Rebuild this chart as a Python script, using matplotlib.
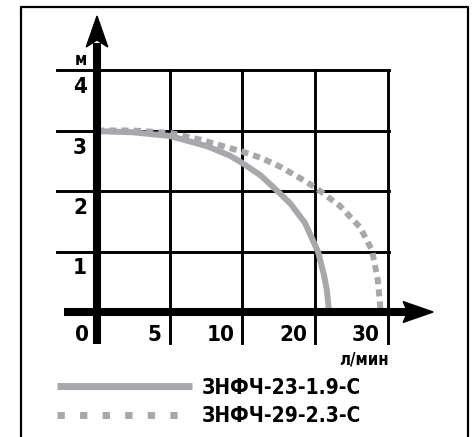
import numpy as np
import matplotlib
matplotlib.use('Agg')
import matplotlib.pyplot as plt
from matplotlib.lines import Line2D
from matplotlib.patches import Polygon

plt.rcParams['font.family'] = ['DejaVu Sans']
plt.rcParams['font.weight'] = 'bold'
plt.rcParams['font.stretch'] = 'condensed'

# data (flow l/min, head m)
flow_23 = [0, 2.47, 5, 7.57, 9.17, 10, 12.47, 14.8, 16.6, 18.6, 20.4, 21.2, 21.6, 21.9]
head_23 = [2.99, 2.97, 2.91, 2.74, 2.58, 2.46, 2.26, 2.0, 1.79, 1.47, 0.99, 0.61, 0.36, 0.0]
flow_29 = [0, 2.47, 5, 7.08, 10, 12.47, 15.2, 17.95, 20, 23.42, 26.16, 27.8, 28.6, 29.0]
head_29 = [3.0, 3.0, 2.96, 2.85, 2.65, 2.55, 2.40, 2.21, 2.06, 1.75, 1.40, 1.02, 0.53, 0.0]
x_ticks = [0, 5, 10, 20, 30]
y_ticks = [1, 2, 3, 4]
names = ['ЗНФЧ-23-1.9-С', 'ЗНФЧ-29-2.3-С']

gray = '#a7a8ab'
W, H = 477, 437

fig = plt.figure(figsize=(W / 100, H / 100), dpi=100)
ax = fig.add_axes([97 / W, 1 - 312 / H, 291 / W, 242 / H])

# uneven flow axis: grid columns are 0, 5, 10, 20, 30
grid_pos = np.arange(len(x_ticks))
fwd = lambda v: np.interp(v, x_ticks, grid_pos)
inv = lambda v: np.interp(v, grid_pos, x_ticks)
ax.set_xscale('function', functions=(fwd, inv))
ax.set_xlim(0, 30)
ax.set_ylim(0, 4)
ax.axis('off')

# grid
for v in x_ticks[1:]:
    ax.plot([v, v], [-0.128, 1], transform=ax.get_xaxis_transform(),
            color='black', lw=2.1, clip_on=False, zorder=1)
for v in y_ticks:
    ax.plot([-0.137, 1.004], [v, v], transform=ax.get_yaxis_transform(),
            color='black', lw=2.1, clip_on=False, zorder=1)

# curves
ax.plot(flow_29, head_29, color=gray, lw=4.3, dashes=(1.2, 0.85),
        solid_capstyle='butt', clip_on=False, zorder=2)
ax.plot(flow_23, head_23, color=gray, lw=4.3, solid_capstyle='butt',
        solid_joinstyle='round', clip_on=False, zorder=3)

# thick axes with arrows
ax.plot([0, 0], [-0.132, 1.11], transform=ax.transAxes, color='black',
        lw=5.8, solid_capstyle='butt', clip_on=False, zorder=4)
ax.add_patch(Polygon([[-0.037, 1.095], [0, 1.223], [0.037, 1.095], [0, 1.124]],
                     closed=True, transform=ax.transAxes, color='black',
                     clip_on=False, zorder=4))
ax.plot([-0.113, 1.08], [0, 0], transform=ax.transAxes, color='black',
        lw=5.8, solid_capstyle='butt', clip_on=False, zorder=4)
ax.add_patch(Polygon([[1.052, -0.043], [1.155, 0], [1.052, 0.043], [1.068, 0]],
                     closed=True, transform=ax.transAxes, color='black',
                     clip_on=False, zorder=4))

# tick labels
for v in x_ticks:
    ax.annotate(str(v), xy=(v, 0), textcoords='offset pixels', xytext=(-8, -23),
                ha='right', va='center', fontsize=16, annotation_clip=False)
for v in y_ticks:
    ax.annotate(str(v), xy=(0, v), textcoords='offset pixels', xytext=(-10, -17),
                ha='right', va='center', fontsize=16, annotation_clip=False)
ax.annotate('м', xy=(0, 4), textcoords='offset pixels', xytext=(-10, 10),
            ha='right', va='center', fontsize=12, annotation_clip=False)
ax.annotate('л/мин', xy=(30, 0), textcoords='offset pixels', xytext=(1, -48),
            ha='right', va='center', fontsize=12, annotation_clip=False)

# legend
fig.add_artist(Line2D([57 / W, 192 / W], [1 - 386 / H] * 2, color=gray, lw=5.0,
                      solid_capstyle='butt'))
fig.add_artist(Line2D([57 / W, 192 / W], [1 - 415 / H] * 2, color=gray, lw=5.0,
                      dashes=(1.05, 2.2)))
fig.text(202 / W, 1 - 388 / H, names[0], ha='left', va='center', fontsize=15)
fig.text(202 / W, 1 - 416 / H, names[1], ha='left', va='center', fontsize=15)

# frame (open at the bottom)
fig.add_artist(Line2D([21 / W, 21 / W, 468 / W, 468 / W],
                      [0, 1 - 7 / H, 1 - 7 / H, 0], color='black', lw=1.6))

fig.savefig('out.png', dpi=100)
